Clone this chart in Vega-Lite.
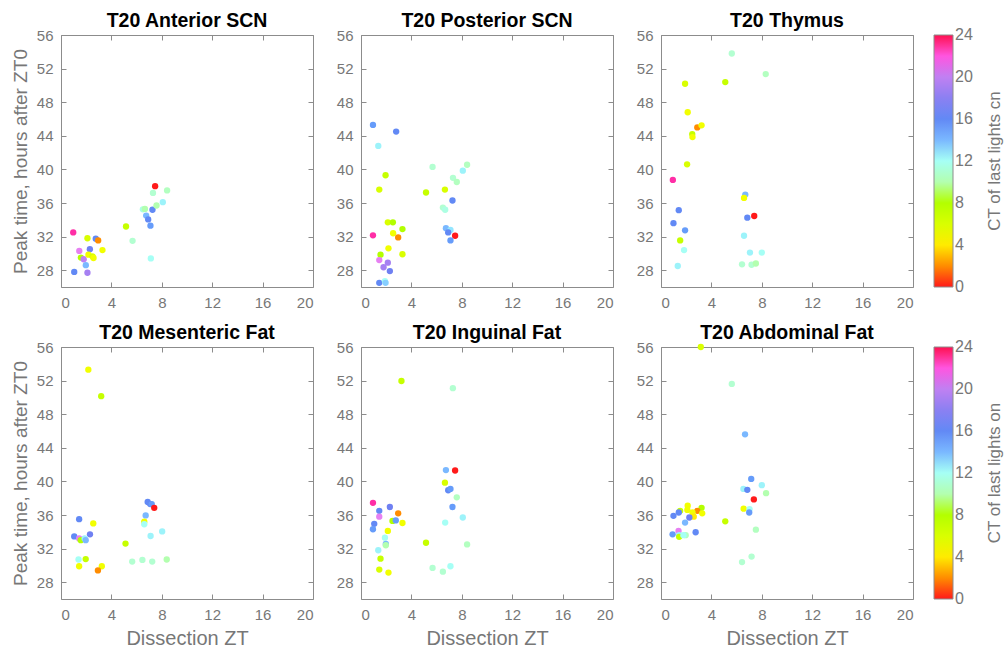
{
  "$schema": "https://vega.github.io/schema/vega-lite/v6.json",
  "padding": {"left": 10, "top": 10, "right": 0, "bottom": 0},
  "background": "white",
  "datasets": {
    "pts": [
      {"panel":"A","zt":0.97,"peak":32.5,"ct":23},{"panel":"A","zt":1.45,"peak":30.3,"ct":21},{"panel":"A","zt":1.58,"peak":29.5,"ct":8},{"panel":"A","zt":1.8,"peak":29.3,"ct":20},{"panel":"A","zt":1.05,"peak":27.8,"ct":16},{"panel":"A","zt":1.97,"peak":28.6,"ct":14},{"panel":"A","zt":2.1,"peak":27.7,"ct":19},{"panel":"A","zt":2.1,"peak":31.8,"ct":6},{"panel":"A","zt":2.76,"peak":31.75,"ct":16},{"panel":"A","zt":2.95,"peak":31.55,"ct":2},{"panel":"A","zt":2.29,"peak":30.5,"ct":17},{"panel":"A","zt":2.18,"peak":29.85,"ct":5},{"panel":"A","zt":2.5,"peak":29.65,"ct":6},{"panel":"A","zt":2.58,"peak":29.45,"ct":5},{"panel":"A","zt":3.29,"peak":30.4,"ct":5},{"panel":"A","zt":5.16,"peak":33.2,"ct":7},{"panel":"A","zt":5.68,"peak":31.5,"ct":11},{"panel":"A","zt":6.5,"peak":35.25,"ct":11.5},{"panel":"A","zt":6.66,"peak":35.3,"ct":10},{"panel":"A","zt":6.76,"peak":34.5,"ct":14},{"panel":"A","zt":6.92,"peak":34.05,"ct":16},{"panel":"A","zt":7.1,"peak":33.3,"ct":15},{"panel":"A","zt":7.26,"peak":35.2,"ct":16},{"panel":"A","zt":7.3,"peak":37.2,"ct":11},{"panel":"A","zt":7.47,"peak":38.0,"ct":0},{"panel":"A","zt":8.08,"peak":36.1,"ct":12.5},{"panel":"A","zt":7.58,"peak":35.7,"ct":10},{"panel":"A","zt":8.42,"peak":37.5,"ct":10.5},{"panel":"A","zt":7.13,"peak":29.4,"ct":12},
      {"panel":"P","zt":0.95,"peak":45.3,"ct":15},{"panel":"P","zt":2.79,"peak":44.5,"ct":16},{"panel":"P","zt":1.37,"peak":42.8,"ct":12.5},{"panel":"P","zt":1.95,"peak":39.3,"ct":7},{"panel":"P","zt":1.45,"peak":37.6,"ct":6},{"panel":"P","zt":0.95,"peak":32.15,"ct":23},{"panel":"P","zt":2.13,"peak":33.7,"ct":6},{"panel":"P","zt":2.53,"peak":33.7,"ct":8},{"panel":"P","zt":3.29,"peak":32.9,"ct":8},{"panel":"P","zt":2.55,"peak":32.4,"ct":5},{"panel":"P","zt":2.95,"peak":31.9,"ct":2},{"panel":"P","zt":2.18,"peak":30.6,"ct":5},{"panel":"P","zt":3.29,"peak":29.9,"ct":6},{"panel":"P","zt":1.55,"peak":29.85,"ct":8},{"panel":"P","zt":1.45,"peak":29.2,"ct":21},{"panel":"P","zt":1.79,"peak":28.35,"ct":19},{"panel":"P","zt":2.13,"peak":28.9,"ct":19},{"panel":"P","zt":2.29,"peak":27.9,"ct":17},{"panel":"P","zt":1.45,"peak":26.5,"ct":16},{"panel":"P","zt":1.9,"peak":26.7,"ct":12},{"panel":"P","zt":1.95,"peak":26.5,"ct":13.5},{"panel":"P","zt":5.68,"peak":40.3,"ct":11},{"panel":"P","zt":5.16,"peak":37.25,"ct":7},{"panel":"P","zt":6.66,"peak":37.6,"ct":6},{"panel":"P","zt":7.26,"peak":36.3,"ct":16},{"panel":"P","zt":7.3,"peak":39.0,"ct":11},{"panel":"P","zt":7.6,"peak":38.5,"ct":10.5},{"panel":"P","zt":8.08,"peak":39.85,"ct":12.5},{"panel":"P","zt":8.42,"peak":40.55,"ct":10.5},{"panel":"P","zt":6.5,"peak":35.45,"ct":11},{"panel":"P","zt":6.68,"peak":35.2,"ct":11.5},{"panel":"P","zt":6.74,"peak":33.0,"ct":14},{"panel":"P","zt":7.1,"peak":32.8,"ct":13},{"panel":"P","zt":6.92,"peak":32.5,"ct":16},{"panel":"P","zt":7.47,"peak":32.1,"ct":0},{"panel":"P","zt":7.1,"peak":31.55,"ct":15},
      {"panel":"T","zt":5.62,"peak":53.8,"ct":11},{"panel":"T","zt":8.31,"peak":51.35,"ct":10.5},{"panel":"T","zt":1.91,"peak":50.2,"ct":6},{"panel":"T","zt":5.1,"peak":50.4,"ct":7},{"panel":"T","zt":2.12,"peak":46.8,"ct":5},{"panel":"T","zt":2.88,"peak":45.0,"ct":2},{"panel":"T","zt":3.22,"peak":45.25,"ct":5},{"panel":"T","zt":2.48,"peak":44.2,"ct":7},{"panel":"T","zt":2.5,"peak":43.85,"ct":5},{"panel":"T","zt":2.07,"peak":40.6,"ct":6},{"panel":"T","zt":0.94,"peak":38.75,"ct":23},{"panel":"T","zt":1.41,"peak":35.15,"ct":16},{"panel":"T","zt":0.99,"peak":33.6,"ct":16},{"panel":"T","zt":1.91,"peak":32.75,"ct":15},{"panel":"T","zt":1.52,"peak":31.55,"ct":7},{"panel":"T","zt":1.83,"peak":30.4,"ct":12},{"panel":"T","zt":1.33,"peak":28.5,"ct":12.5},{"panel":"T","zt":6.69,"peak":37.0,"ct":14},{"panel":"T","zt":6.59,"peak":36.6,"ct":5},{"panel":"T","zt":6.85,"peak":34.25,"ct":16},{"panel":"T","zt":7.4,"peak":34.45,"ct":0},{"panel":"T","zt":6.59,"peak":32.1,"ct":12.5},{"panel":"T","zt":7.06,"peak":30.1,"ct":12.5},{"panel":"T","zt":8.0,"peak":30.1,"ct":12},{"panel":"T","zt":6.43,"peak":28.7,"ct":11},{"panel":"T","zt":7.19,"peak":28.65,"ct":11},{"panel":"T","zt":7.53,"peak":28.8,"ct":10},
      {"panel":"M","zt":2.17,"peak":53.3,"ct":5},{"panel":"M","zt":3.19,"peak":50.15,"ct":7},{"panel":"M","zt":6.88,"peak":37.55,"ct":16},{"panel":"M","zt":7.08,"peak":37.3,"ct":16},{"panel":"M","zt":7.2,"peak":37.3,"ct":15},{"panel":"M","zt":7.4,"peak":36.85,"ct":0},{"panel":"M","zt":6.72,"peak":35.95,"ct":14},{"panel":"M","zt":6.61,"peak":35.2,"ct":5},{"panel":"M","zt":6.61,"peak":34.9,"ct":12},{"panel":"M","zt":7.11,"peak":33.5,"ct":12.5},{"panel":"M","zt":8.03,"peak":34.05,"ct":12.5},{"panel":"M","zt":1.44,"peak":35.5,"ct":16},{"panel":"M","zt":2.56,"peak":35.0,"ct":5},{"panel":"M","zt":1.05,"peak":33.45,"ct":16},{"panel":"M","zt":2.3,"peak":33.7,"ct":17},{"panel":"M","zt":1.44,"peak":33.2,"ct":21},{"panel":"M","zt":1.57,"peak":33.0,"ct":8},{"panel":"M","zt":1.88,"peak":33.2,"ct":12.5},{"panel":"M","zt":1.96,"peak":33.0,"ct":14},{"panel":"M","zt":5.12,"peak":32.6,"ct":7},{"panel":"M","zt":1.39,"peak":30.7,"ct":12},{"panel":"M","zt":1.96,"peak":30.75,"ct":7},{"panel":"M","zt":1.44,"peak":29.9,"ct":5},{"panel":"M","zt":3.24,"peak":29.9,"ct":5},{"panel":"M","zt":2.93,"peak":29.4,"ct":2},{"panel":"M","zt":5.65,"peak":30.45,"ct":11},{"panel":"M","zt":6.46,"peak":30.65,"ct":11},{"panel":"M","zt":7.24,"peak":30.45,"ct":11},{"panel":"M","zt":8.39,"peak":30.7,"ct":10},
      {"panel":"I","zt":3.21,"peak":51.95,"ct":7},{"panel":"I","zt":7.29,"peak":51.1,"ct":11},{"panel":"I","zt":6.74,"peak":41.35,"ct":14},{"panel":"I","zt":7.47,"peak":41.3,"ct":0},{"panel":"I","zt":6.66,"peak":39.85,"ct":6},{"panel":"I","zt":6.92,"peak":38.95,"ct":16},{"panel":"I","zt":7.1,"peak":39.1,"ct":15},{"panel":"I","zt":7.6,"peak":38.1,"ct":10.5},{"panel":"I","zt":7.26,"peak":36.95,"ct":15},{"panel":"I","zt":6.68,"peak":35.1,"ct":12},{"panel":"I","zt":8.08,"peak":35.7,"ct":12.5},{"panel":"I","zt":8.42,"peak":32.5,"ct":10.5},{"panel":"I","zt":5.16,"peak":32.7,"ct":7},{"panel":"I","zt":5.68,"peak":29.7,"ct":11},{"panel":"I","zt":6.5,"peak":29.25,"ct":11},{"panel":"I","zt":7.1,"peak":29.9,"ct":12},{"panel":"I","zt":0.95,"peak":37.45,"ct":23},{"panel":"I","zt":1.45,"peak":36.5,"ct":16},{"panel":"I","zt":2.29,"peak":36.95,"ct":17},{"panel":"I","zt":1.45,"peak":35.8,"ct":21},{"panel":"I","zt":2.95,"peak":36.2,"ct":2},{"panel":"I","zt":1.05,"peak":34.95,"ct":16},{"panel":"I","zt":0.95,"peak":34.3,"ct":15},{"panel":"I","zt":2.5,"peak":35.3,"ct":8},{"panel":"I","zt":2.76,"peak":35.35,"ct":15},{"panel":"I","zt":3.29,"peak":35.05,"ct":5},{"panel":"I","zt":2.13,"peak":34.1,"ct":5},{"panel":"I","zt":1.9,"peak":33.3,"ct":12},{"panel":"I","zt":1.97,"peak":32.55,"ct":14},{"panel":"I","zt":1.97,"peak":32.4,"ct":10},{"panel":"I","zt":1.37,"peak":31.8,"ct":12.5},{"panel":"I","zt":1.55,"peak":30.8,"ct":7},{"panel":"I","zt":1.45,"peak":29.5,"ct":6},{"panel":"I","zt":2.18,"peak":29.15,"ct":5},
      {"panel":"B","zt":3.16,"peak":56.0,"ct":6},{"panel":"B","zt":5.62,"peak":51.6,"ct":11},{"panel":"B","zt":6.67,"peak":45.6,"ct":14},{"panel":"B","zt":7.16,"peak":40.3,"ct":15},{"panel":"B","zt":8.0,"peak":39.55,"ct":12.5},{"panel":"B","zt":6.54,"peak":39.1,"ct":12.5},{"panel":"B","zt":6.85,"peak":39.0,"ct":16},{"panel":"B","zt":8.34,"peak":38.6,"ct":10},{"panel":"B","zt":7.37,"peak":37.85,"ct":0},{"panel":"B","zt":6.56,"peak":36.75,"ct":5},{"panel":"B","zt":7.03,"peak":36.7,"ct":12},{"panel":"B","zt":7.0,"peak":36.3,"ct":15},{"panel":"B","zt":5.1,"peak":35.25,"ct":7},{"panel":"B","zt":7.53,"peak":34.25,"ct":10.5},{"panel":"B","zt":7.19,"peak":31.05,"ct":11},{"panel":"B","zt":6.43,"peak":30.4,"ct":11},{"panel":"B","zt":2.12,"peak":37.1,"ct":5},{"panel":"B","zt":2.09,"peak":36.6,"ct":5},{"panel":"B","zt":3.22,"peak":36.85,"ct":8},{"panel":"B","zt":1.52,"peak":36.5,"ct":7},{"panel":"B","zt":1.41,"peak":36.3,"ct":16},{"panel":"B","zt":2.88,"peak":36.5,"ct":2},{"panel":"B","zt":2.5,"peak":36.3,"ct":5},{"panel":"B","zt":3.27,"peak":36.2,"ct":5},{"panel":"B","zt":2.6,"peak":35.8,"ct":4},{"panel":"B","zt":0.99,"peak":35.9,"ct":16},{"panel":"B","zt":2.25,"peak":35.7,"ct":17},{"panel":"B","zt":1.91,"peak":35.1,"ct":14},{"panel":"B","zt":2.75,"peak":33.95,"ct":16},{"panel":"B","zt":0.92,"peak":33.7,"ct":15},{"panel":"B","zt":1.39,"peak":34.1,"ct":21},{"panel":"B","zt":1.44,"peak":33.6,"ct":12.5},{"panel":"B","zt":1.44,"peak":33.4,"ct":7},{"panel":"B","zt":1.96,"peak":33.6,"ct":10.5},{"panel":"B","zt":1.78,"peak":33.6,"ct":12}
    ]
  },
  "data": {"name": "pts"},
  "spacing": 11,
  "resolve": {"scale": {"color": "independent"}, "legend": {"color": "independent"}},
  "vconcat": [
    {
      "bounds": "flush",
      "spacing": 48,
      "hconcat": [
        {
          "width": 252, "height": 252, "title": "T20 Anterior SCN",
          "transform": [{"filter": "datum.panel === 'A'"}],
          "layer": [
            {"mark": {"type": "circle", "size": 40, "opacity": 1},
             "encoding": {
               "x": {"field": "zt", "type": "quantitative", "scale": {"domain": [0, 20], "nice": false}, "axis": {"values": [0,4,8,12,16,20], "title": null}},
               "y": {"field": "peak", "type": "quantitative", "scale": {"domain": [26, 56], "nice": false}, "axis": {"values": [28,32,36,40,44,48,52,56], "title": "Peak time, hours after ZT0", "titleFontSize": 19}},
               "color": {"field": "ct", "type": "quantitative",
                 "scale": {"domain": [0,1,2,3,4,5,6,8,9.7,9.75,11,12,13,14,15.5,17,18.5,20,21,22,23,24], "range": ["#ff1a1a","#ff5000","#ff8c00","#ffbf00","#ffeb00","#f2ff00","#d9ff00","#b3ff00","#a0ff00","#b3ffa6","#b3ffd1","#a6fff5","#94e6ff","#7ab8ff","#5c8ef7","#6f80f2","#9980f2","#c080f2","#e680f2","#ff55e0","#ff2ea6","#ff1050"], "interpolate": "rgb"},
                 "legend": {"title": "CT of last lights cn", "values": [0,4,8,12,16,20,24], "encoding": {"title": {"angle": {"value": 270}, "baseline": {"value": "top"}}, "labels": {"baseline": {"value": "middle"}}}}}
             }},
            {"mark": {"type": "circle", "opacity": 0},
             "encoding": {
               "x": {"field": "zt", "type": "quantitative", "scale": {"domain": [0, 20], "nice": false}, "axis": {"orient": "top", "values": [0,4,8,12,16,20], "labels": false, "labelPadding": 0, "title": null}},
               "y": {"field": "peak", "type": "quantitative", "scale": {"domain": [26, 56], "nice": false}, "axis": {"orient": "right", "values": [28,32,36,40,44,48,52,56], "labels": false, "labelPadding": 0, "title": null}}
             }}
          ],
          "resolve": {"axis": {"x": "independent", "y": "independent"}}
        },
        {
          "width": 252, "height": 252, "title": "T20 Posterior SCN",
          "transform": [{"filter": "datum.panel === 'P'"}],
          "layer": [
            {"mark": {"type": "circle", "size": 40, "opacity": 1},
             "encoding": {
               "x": {"field": "zt", "type": "quantitative", "scale": {"domain": [0, 20], "nice": false}, "axis": {"values": [0,4,8,12,16,20], "title": null}},
               "y": {"field": "peak", "type": "quantitative", "scale": {"domain": [26, 56], "nice": false}, "axis": {"values": [28,32,36,40,44,48,52,56], "title": null}},
               "color": {"field": "ct", "type": "quantitative",
                 "scale": {"domain": [0,1,2,3,4,5,6,8,9.7,9.75,11,12,13,14,15.5,17,18.5,20,21,22,23,24], "range": ["#ff1a1a","#ff5000","#ff8c00","#ffbf00","#ffeb00","#f2ff00","#d9ff00","#b3ff00","#a0ff00","#b3ffa6","#b3ffd1","#a6fff5","#94e6ff","#7ab8ff","#5c8ef7","#6f80f2","#9980f2","#c080f2","#e680f2","#ff55e0","#ff2ea6","#ff1050"], "interpolate": "rgb"},
                 "legend": {"title": "CT of last lights cn", "values": [0,4,8,12,16,20,24], "encoding": {"title": {"angle": {"value": 270}, "baseline": {"value": "top"}}, "labels": {"baseline": {"value": "middle"}}}}}
             }},
            {"mark": {"type": "circle", "opacity": 0},
             "encoding": {
               "x": {"field": "zt", "type": "quantitative", "scale": {"domain": [0, 20], "nice": false}, "axis": {"orient": "top", "values": [0,4,8,12,16,20], "labels": false, "labelPadding": 0, "title": null}},
               "y": {"field": "peak", "type": "quantitative", "scale": {"domain": [26, 56], "nice": false}, "axis": {"orient": "right", "values": [28,32,36,40,44,48,52,56], "labels": false, "labelPadding": 0, "title": null}}
             }}
          ],
          "resolve": {"axis": {"x": "independent", "y": "independent"}}
        },
        {
          "width": 252, "height": 252, "title": "T20 Thymus",
          "transform": [{"filter": "datum.panel === 'T'"}],
          "layer": [
            {"mark": {"type": "circle", "size": 40, "opacity": 1},
             "encoding": {
               "x": {"field": "zt", "type": "quantitative", "scale": {"domain": [0, 20], "nice": false}, "axis": {"values": [0,4,8,12,16,20], "title": null}},
               "y": {"field": "peak", "type": "quantitative", "scale": {"domain": [26, 56], "nice": false}, "axis": {"values": [28,32,36,40,44,48,52,56], "title": null}},
               "color": {"field": "ct", "type": "quantitative",
                 "scale": {"domain": [0,1,2,3,4,5,6,8,9.7,9.75,11,12,13,14,15.5,17,18.5,20,21,22,23,24], "range": ["#ff1a1a","#ff5000","#ff8c00","#ffbf00","#ffeb00","#f2ff00","#d9ff00","#b3ff00","#a0ff00","#b3ffa6","#b3ffd1","#a6fff5","#94e6ff","#7ab8ff","#5c8ef7","#6f80f2","#9980f2","#c080f2","#e680f2","#ff55e0","#ff2ea6","#ff1050"], "interpolate": "rgb"},
                 "legend": {"title": "CT of last lights cn", "values": [0,4,8,12,16,20,24], "encoding": {"title": {"angle": {"value": 270}, "baseline": {"value": "top"}}, "labels": {"baseline": {"value": "middle"}}}}}
             }},
            {"mark": {"type": "circle", "opacity": 0},
             "encoding": {
               "x": {"field": "zt", "type": "quantitative", "scale": {"domain": [0, 20], "nice": false}, "axis": {"orient": "top", "values": [0,4,8,12,16,20], "labels": false, "labelPadding": 0, "title": null}},
               "y": {"field": "peak", "type": "quantitative", "scale": {"domain": [26, 56], "nice": false}, "axis": {"orient": "right", "values": [28,32,36,40,44,48,52,56], "labels": false, "labelPadding": 0, "title": null}}
             }}
          ],
          "resolve": {"axis": {"x": "independent", "y": "independent"}}
        }
      ]
    },
    {
      "bounds": "flush",
      "spacing": 48,
      "hconcat": [
        {
          "width": 252, "height": 252, "title": "T20 Mesenteric Fat",
          "transform": [{"filter": "datum.panel === 'M'"}],
          "layer": [
            {"mark": {"type": "circle", "size": 40, "opacity": 1},
             "encoding": {
               "x": {"field": "zt", "type": "quantitative", "scale": {"domain": [0, 20], "nice": false}, "axis": {"values": [0,4,8,12,16,20], "title": "Dissection ZT", "titleFontSize": 20}},
               "y": {"field": "peak", "type": "quantitative", "scale": {"domain": [26, 56], "nice": false}, "axis": {"values": [28,32,36,40,44,48,52,56], "title": "Peak time, hours after ZT0", "titleFontSize": 19}},
               "color": {"field": "ct", "type": "quantitative",
                 "scale": {"domain": [0,1,2,3,4,5,6,8,9.7,9.75,11,12,13,14,15.5,17,18.5,20,21,22,23,24], "range": ["#ff1a1a","#ff5000","#ff8c00","#ffbf00","#ffeb00","#f2ff00","#d9ff00","#b3ff00","#a0ff00","#b3ffa6","#b3ffd1","#a6fff5","#94e6ff","#7ab8ff","#5c8ef7","#6f80f2","#9980f2","#c080f2","#e680f2","#ff55e0","#ff2ea6","#ff1050"], "interpolate": "rgb"},
                 "legend": {"title": "CT of last lights on", "values": [0,4,8,12,16,20,24], "encoding": {"title": {"angle": {"value": 270}, "baseline": {"value": "top"}}, "labels": {"baseline": {"value": "middle"}}}}}
             }},
            {"mark": {"type": "circle", "opacity": 0},
             "encoding": {
               "x": {"field": "zt", "type": "quantitative", "scale": {"domain": [0, 20], "nice": false}, "axis": {"orient": "top", "values": [0,4,8,12,16,20], "labels": false, "labelPadding": 0, "title": null}},
               "y": {"field": "peak", "type": "quantitative", "scale": {"domain": [26, 56], "nice": false}, "axis": {"orient": "right", "values": [28,32,36,40,44,48,52,56], "labels": false, "labelPadding": 0, "title": null}}
             }}
          ],
          "resolve": {"axis": {"x": "independent", "y": "independent"}}
        },
        {
          "width": 252, "height": 252, "title": "T20 Inguinal Fat",
          "transform": [{"filter": "datum.panel === 'I'"}],
          "layer": [
            {"mark": {"type": "circle", "size": 40, "opacity": 1},
             "encoding": {
               "x": {"field": "zt", "type": "quantitative", "scale": {"domain": [0, 20], "nice": false}, "axis": {"values": [0,4,8,12,16,20], "title": "Dissection ZT", "titleFontSize": 20}},
               "y": {"field": "peak", "type": "quantitative", "scale": {"domain": [26, 56], "nice": false}, "axis": {"values": [28,32,36,40,44,48,52,56], "title": null}},
               "color": {"field": "ct", "type": "quantitative",
                 "scale": {"domain": [0,1,2,3,4,5,6,8,9.7,9.75,11,12,13,14,15.5,17,18.5,20,21,22,23,24], "range": ["#ff1a1a","#ff5000","#ff8c00","#ffbf00","#ffeb00","#f2ff00","#d9ff00","#b3ff00","#a0ff00","#b3ffa6","#b3ffd1","#a6fff5","#94e6ff","#7ab8ff","#5c8ef7","#6f80f2","#9980f2","#c080f2","#e680f2","#ff55e0","#ff2ea6","#ff1050"], "interpolate": "rgb"},
                 "legend": {"title": "CT of last lights on", "values": [0,4,8,12,16,20,24], "encoding": {"title": {"angle": {"value": 270}, "baseline": {"value": "top"}}, "labels": {"baseline": {"value": "middle"}}}}}
             }},
            {"mark": {"type": "circle", "opacity": 0},
             "encoding": {
               "x": {"field": "zt", "type": "quantitative", "scale": {"domain": [0, 20], "nice": false}, "axis": {"orient": "top", "values": [0,4,8,12,16,20], "labels": false, "labelPadding": 0, "title": null}},
               "y": {"field": "peak", "type": "quantitative", "scale": {"domain": [26, 56], "nice": false}, "axis": {"orient": "right", "values": [28,32,36,40,44,48,52,56], "labels": false, "labelPadding": 0, "title": null}}
             }}
          ],
          "resolve": {"axis": {"x": "independent", "y": "independent"}}
        },
        {
          "width": 252, "height": 252, "title": "T20 Abdominal Fat",
          "transform": [{"filter": "datum.panel === 'B'"}],
          "layer": [
            {"mark": {"type": "circle", "size": 40, "opacity": 1},
             "encoding": {
               "x": {"field": "zt", "type": "quantitative", "scale": {"domain": [0, 20], "nice": false}, "axis": {"values": [0,4,8,12,16,20], "title": "Dissection ZT", "titleFontSize": 20}},
               "y": {"field": "peak", "type": "quantitative", "scale": {"domain": [26, 56], "nice": false}, "axis": {"values": [28,32,36,40,44,48,52,56], "title": null}},
               "color": {"field": "ct", "type": "quantitative",
                 "scale": {"domain": [0,1,2,3,4,5,6,8,9.7,9.75,11,12,13,14,15.5,17,18.5,20,21,22,23,24], "range": ["#ff1a1a","#ff5000","#ff8c00","#ffbf00","#ffeb00","#f2ff00","#d9ff00","#b3ff00","#a0ff00","#b3ffa6","#b3ffd1","#a6fff5","#94e6ff","#7ab8ff","#5c8ef7","#6f80f2","#9980f2","#c080f2","#e680f2","#ff55e0","#ff2ea6","#ff1050"], "interpolate": "rgb"},
                 "legend": {"title": "CT of last lights on", "values": [0,4,8,12,16,20,24], "encoding": {"title": {"angle": {"value": 270}, "baseline": {"value": "top"}}, "labels": {"baseline": {"value": "middle"}}}}}
             }},
            {"mark": {"type": "circle", "opacity": 0},
             "encoding": {
               "x": {"field": "zt", "type": "quantitative", "scale": {"domain": [0, 20], "nice": false}, "axis": {"orient": "top", "values": [0,4,8,12,16,20], "labels": false, "labelPadding": 0, "title": null}},
               "y": {"field": "peak", "type": "quantitative", "scale": {"domain": [26, 56], "nice": false}, "axis": {"orient": "right", "values": [28,32,36,40,44,48,52,56], "labels": false, "labelPadding": 0, "title": null}}
             }}
          ],
          "resolve": {"axis": {"x": "independent", "y": "independent"}}
        }
      ]
    }
  ],
  "config": {
    "font": "Liberation Sans",
    "view": {"stroke": "#8c8c8c", "strokeWidth": 1},
    "axis": {"domain": false, "grid": false, "ticks": true, "tickColor": "#8c8c8c", "tickSize": -5, "labelPadding": 13, "labelFontSize": 15, "labelColor": "#777777", "titleFontSize": 18, "titleColor": "#777777", "titleFontWeight": "normal", "titlePadding": 6},
    "title": {"fontSize": 19.5, "fontWeight": "bold", "color": "#000000", "offset": -3, "anchor": "middle"},
    "legend": {"gradientLength": 252, "gradientThickness": 19, "labelFontSize": 16, "labelColor": "#777777", "titleFontSize": 17, "titleColor": "#777777", "titleFontWeight": "normal", "titleOrient": "right", "titleAnchor": "middle", "titlePadding": 14, "offset": 20, "gradientStrokeColor": "#8c8c8c", "gradientStrokeWidth": 1, "labelOffset": 4}
  }
}
